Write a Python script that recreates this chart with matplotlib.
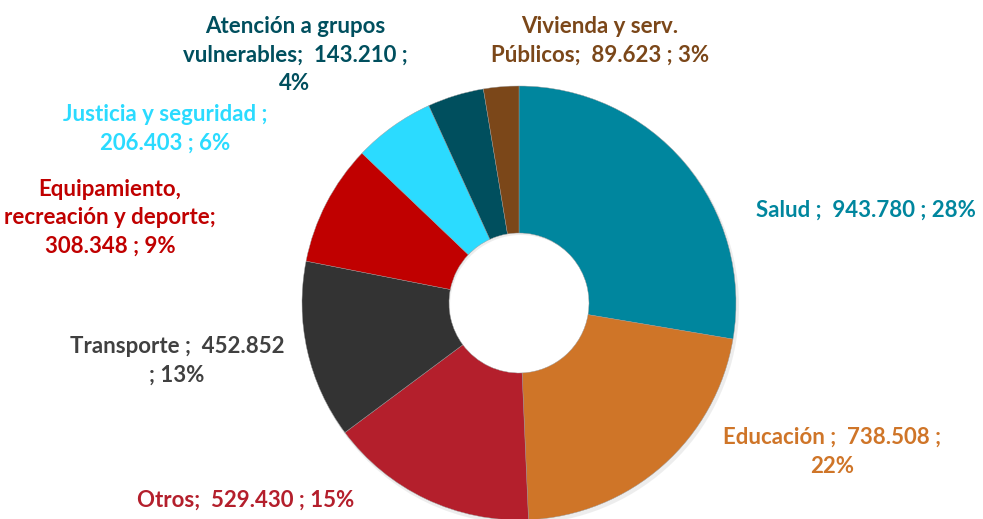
import matplotlib
matplotlib.use("Agg")
import matplotlib.pyplot as plt

categories = ["Salud", "Educación", "Otros", "Transporte",
              "Equipamiento, recreación y deporte", "Justicia y seguridad",
              "Atención a grupos vulnerables", "Vivienda y serv. Públicos"]
values = [943780, 738508, 529430, 452852, 308348, 206403, 143210, 89623]
percents = [28, 22, 15, 13, 9, 6, 4, 3]
colors = ["#00869E", "#CF7528", "#B41F2C", "#333333",
          "#C00000", "#2BDBFF", "#004F5E", "#7B4719"]
label_colors = ["#00869E", "#CF7528", "#B41F2C", "#404040",
                "#C00000", "#2BDBFF", "#004F5E", "#7B4719"]

def fmt(v):
    return f"{v:,}".replace(",", ".")

label_texts = [
    f"Salud ;  {fmt(values[0])} ; {percents[0]}%",
    f"Educación ;  {fmt(values[1])} ;\n{percents[1]}%",
    f"Otros;  {fmt(values[2])} ; {percents[2]}%",
    f"Transporte ;  {fmt(values[3])}\n; {percents[3]}%",
    f"Equipamiento,\nrecreación y deporte;\n{fmt(values[4])} ; {percents[4]}%",
    f"Justicia y seguridad ;\n{fmt(values[5])} ; {percents[5]}%",
    f"Atención a grupos\nvulnerables;  {fmt(values[6])} ;\n{percents[6]}%",
    f"Vivienda y serv.\nPúblicos;  {fmt(values[7])} ; {percents[7]}%",
]
# label centers in pixel coords (x, y from top)
label_pos = [(866, 210), (832, 452), (246, 500), (177, 361),
             (110, 218), (165, 129), (295, 55), (600, 41)]

W, H = 983, 519
fig = plt.figure(figsize=(W / 100, H / 100), dpi=100)
ax = fig.add_axes([0, 0, 1, 1])

cx, cy, R, r_in = 519, H - 303, 217, 70
# subtle shadow
ax.pie(values, startangle=90, counterclock=False, center=(cx + 2, cy - 3),
       radius=R + 1, colors=["#bbbbbb"] * len(values),
       wedgeprops=dict(width=R - r_in, edgecolor="none", alpha=0.25))
ax.pie(values, startangle=90, counterclock=False, center=(cx, cy),
       radius=R, colors=colors,
       wedgeprops=dict(width=R - r_in, edgecolor="#999999", linewidth=0.3))
ax.set_xlim(0, W)
ax.set_ylim(0, H)
ax.set_aspect("equal")
ax.axis("off")

for txt, (x, y), c in zip(label_texts, label_pos, label_colors):
    ax.text(x, H - y, txt, ha="center", va="center", multialignment="center",
            color=c, fontsize=16, fontweight="bold", family="Lato",
            linespacing=1.45)

fig.savefig("out.png", dpi=100)
